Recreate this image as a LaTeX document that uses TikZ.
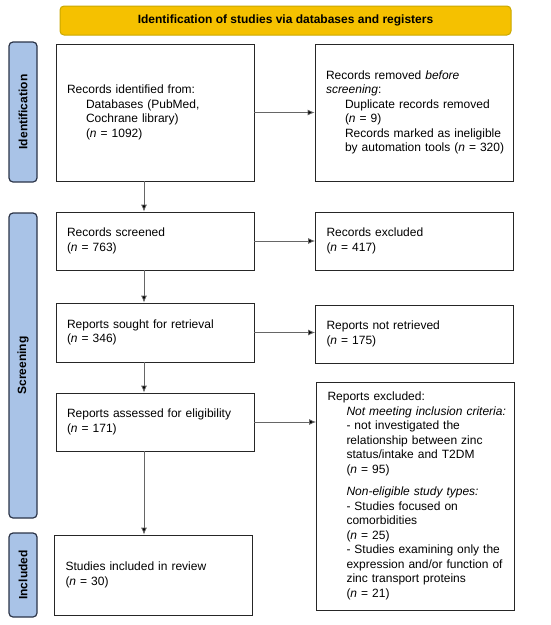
\documentclass[tikz,border=0pt]{standalone}
\usepackage{fontspec}
\setmainfont{Liberation Sans}
\definecolor{BannerFill}{HTML}{F5C100}
\definecolor{BannerLine}{HTML}{C9A800}
\definecolor{PhaseFill}{HTML}{A9C3E7}
\definecolor{PhaseLine}{HTML}{2B3448}
\usetikzlibrary{arrows.meta}
\tikzset{
    box/.style={draw=black!85, line width=0.8pt, rectangle, inner xsep=11pt,
        text width=176pt, align=left, font=\fontsize{12}{14.5}\selectfont},
    phase/.style={draw=PhaseLine, line width=1.2pt, fill=PhaseFill, rounded corners=4pt,
        rotate=90, minimum height=28pt, font=\fontsize{12}{14}\selectfont\bfseries},
    banner/.style={draw=BannerLine, line width=1pt, fill=BannerFill, rounded corners=4pt,
        font=\fontsize{12}{14}\selectfont\bfseries},
    flow/.style={draw=black!60, line width=0.8pt, -{Latex[length=7pt,width=6pt,fill=black]}}
}
\newcommand{\ind}{\hspace*{19pt}}

\begin{document}
\begin{tikzpicture}[x=1pt, y=-1pt]

\useasboundingbox (0,0) rectangle (550,625);

\coordinate (arrowx) at (144,0);

% Cabecera y fases
\node[banner, minimum width=451pt, minimum height=29pt] (head) at (285.5,20.5)
    {Identification of studies via databases and registers};

\node[phase, minimum width=140pt] (identbar) at (23,112) {Identification};
\node[phase, minimum width=305pt] (screenbar) at (23,365.5) {Screening};
\node[phase, minimum width=84pt] (inclbar) at (23,575) {Included};

% Cajas de la izquierda
\node[box, minimum height=137pt] (ident) at (155,112.5)
    {Records identified from:\\
     \ind Databases (PubMed,\\
     \ind Cochrane library)\\
     \ind (\textit{n} = 1092)};
\node[box, minimum height=58pt] (screen) at (155,241)
    {Records screened\\(\textit{n} = 763)};
\node[box, minimum height=59pt] (sought) at (155,332.5)
    {Reports sought for retrieval\\(\textit{n} = 346)};
\node[box, minimum height=58pt] (assessed) at (155,422)
    {Reports assessed for eligibility\\(\textit{n} = 171)};
\node[box, minimum height=80pt] (included) at (153.5,575)
    {Studies included in review\\(\textit{n} = 30)};

% Cajas de la derecha
\node[box, minimum height=137pt] (removed) at (414,112.5)
    {Records removed \textit{before}\\
     \textit{screening}:\\
     \ind Duplicate records removed\\
     \ind (\textit{n} = 9)\\
     \ind Records marked as ineligible\\
     \ind \mbox{by automation tools (\textit{n} = 320)}};
\node[box, minimum height=58pt] (excluded) at (414.5,241)
    {Records excluded\\(\textit{n} = 417)};
\node[box, minimum height=58pt] (notret) at (414.5,334)
    {Reports not retrieved\\(\textit{n} = 175)};
\node[box, minimum height=228pt] (repexcl) at (415.5,496)
    {Reports excluded:\\
     \ind\mbox{\textit{Not meeting inclusion criteria:}}\\
     \ind - not investigated the\\
     \ind relationship between zinc\\
     \ind status/intake and T2DM\\
     \ind (\textit{n} = 95)\\[8pt]
     \ind\textit{Non-eligible study types:}\\
     \ind - Studies focused on\\
     \ind comorbidities\\
     \ind (\textit{n} = 25)\\
     \ind \mbox{- Studies examining only the}\\
     \ind \mbox{expression and/or function of}\\
     \ind zinc transport proteins\\
     \ind (\textit{n} = 21)};

% Flechas
\draw[flow] (ident.south -| arrowx) -- (screen.north -| arrowx);
\draw[flow] (screen.south -| arrowx) -- (sought.north -| arrowx);
\draw[flow] (sought.south -| arrowx) -- (assessed.north -| arrowx);
\draw[flow] (assessed.south -| arrowx) -- (included.north -| arrowx);

\draw[flow] (ident.east) -- (ident.east -| removed.west);
\draw[flow] (screen.east) -- (screen.east -| excluded.west);
\draw[flow] (sought.east) -- (sought.east -| notret.west);
\draw[flow] (assessed.east) -- (assessed.east -| repexcl.west);

\end{tikzpicture}
\end{document}
